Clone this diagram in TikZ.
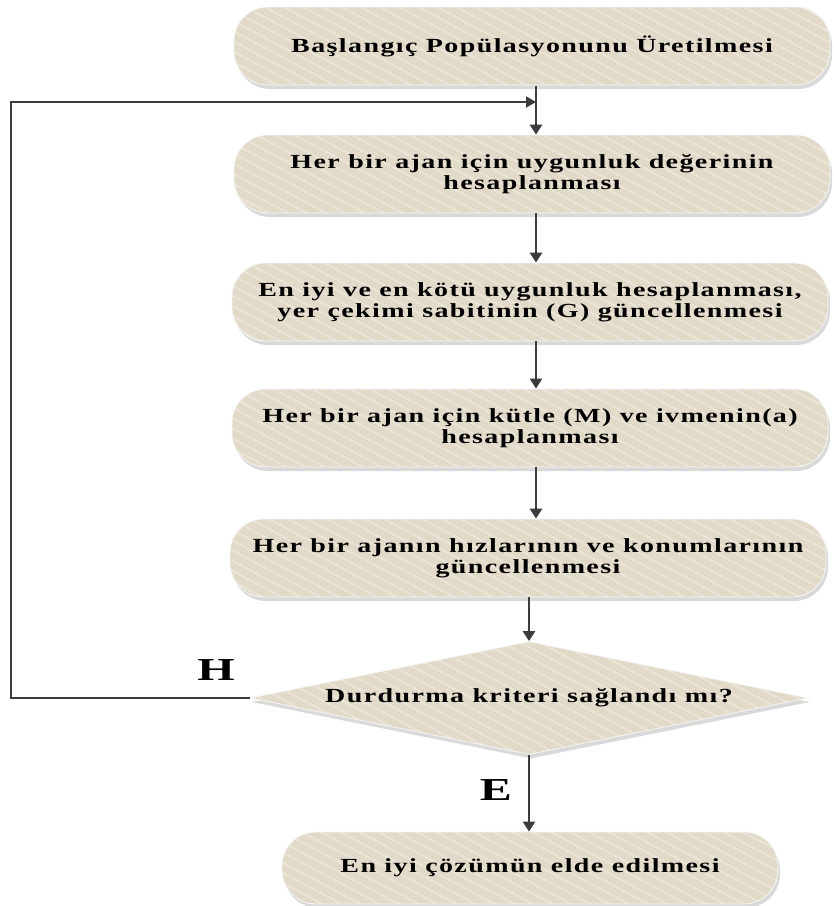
\documentclass[tikz,border=0pt]{standalone}
\usepackage{fontspec}
\setmainfont{Liberation Serif}
\usetikzlibrary{arrows.meta,shadows,shapes.geometric,patterns.meta}
\definecolor{boxfill}{RGB}{226,218,200}
\definecolor{stripe}{RGB}{235,229,216}
\definecolor{arrowgray}{RGB}{60,60,60}
\newcommand{\boxfont}{\fontsize{20}{21}\selectfont\bfseries\addfontfeature{FakeStretch=1.4,LetterSpace=7}}
\begin{document}
\begin{tikzpicture}[x=1pt,y=-1pt,
  boxbase/.style={draw=white!92!gray, line width=0.8pt,
    preaction={fill=boxfill, drop shadow={opacity=0.3, shadow xshift=2pt, shadow yshift=-4pt}},
    pattern={Lines[angle=-28,distance=9pt,line width=1.8pt]}, pattern color=stripe},
  procbox/.style={boxbase, rounded corners=34pt, minimum width=596pt, minimum height=78pt,
    align=center, inner sep=0pt, font=\boxfont},
  decbox/.style={boxbase, diamond, aspect=4.94, minimum width=558pt, minimum height=113pt,
    inner sep=0pt, align=center, font=\boxfont},
  flowarrow/.style={draw=arrowgray, line width=2.6pt, -{Triangle[width=12pt,length=10pt]}},
  looparrow/.style={draw=arrowgray, line width=2pt, -{Triangle[width=11pt,length=10pt]}},
  looplabel/.style={font=\fontsize{32}{32}\selectfont\bfseries}
]
\useasboundingbox (0,0) rectangle (834,906);

\node[procbox] (b1) at (532,46) {Başlangıç Popülasyonunu Üretilmesi};
\node[procbox] (b2) at (532,174) {Her bir ajan için uygunluk değerinin\\hesaplanması};
\node[procbox] (b3) at (530,302) {En iyi ve en kötü uygunluk hesaplanması,\\yer çekimi sabitinin (G) güncellenmesi};
\node[procbox] (b4) at (530,428) {Her bir ajan için kütle (M) ve ivmenin(a)\\hesaplanması};
\node[procbox] (b5) at (528,558) {Her bir ajanın hızlarının ve konumlarının\\güncellenmesi};
\node[decbox] (d) at (529,698) {Durdurma kriteri sağlandı mı?};
\node[procbox, minimum width=496pt, minimum height=72pt] (b6) at (530,868) {En iyi çözümün elde edilmesi};

\coordinate (j) at (536,102);
\coordinate (l1) at (11,698);
\coordinate (l2) at (11,102);

\draw[draw=arrowgray, line width=2.6pt] (b1.south -| j) -- (j);
\draw[flowarrow] (j) -- (b2.north -| j);
\draw[flowarrow] (b2.south -| j) -- (b3.north -| j);
\draw[flowarrow] (b3.south -| j) -- (b4.north -| j);
\draw[flowarrow] (b4.south -| j) -- (b5.north -| j);
\draw[flowarrow] (b5.south -| d.north) -- (d.north);
\draw[flowarrow] (d.south) -- (b6.north -| d.south);
\draw[looparrow, line join=miter] (d.west) -- (l1) -- (l2) -- (j);

\node[looplabel] (h) at (216,670) {\scalebox{1.5}[1]{H}};
\node[looplabel] (e) at (496,790) {\scalebox{1.5}[1]{E}};
\end{tikzpicture}
\end{document}
